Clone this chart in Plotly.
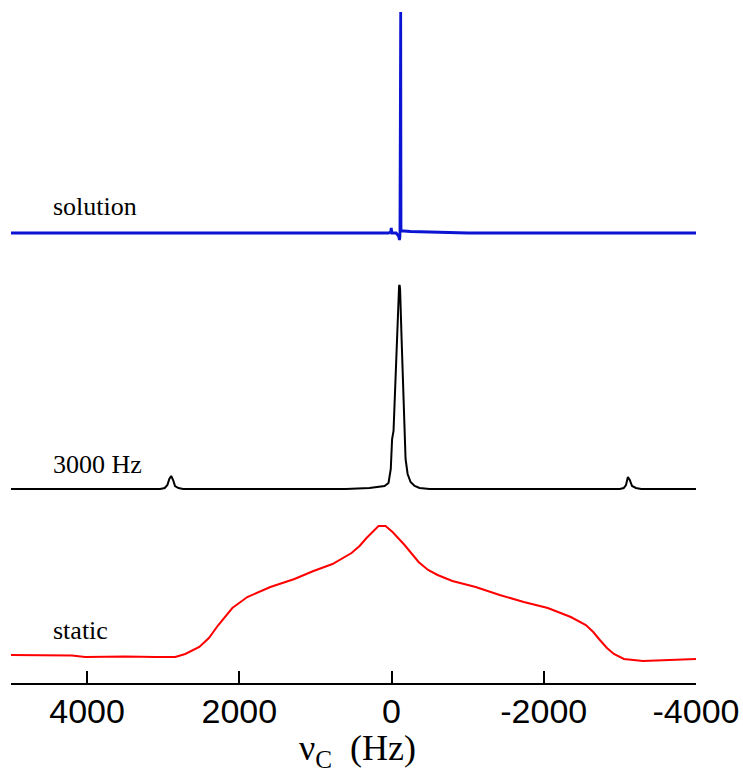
import plotly.graph_objects as go

# ---------------- data ----------------
# frequency axis (Hz) and intensities (arbitrary units)
solution_hz = [5000, 3000, 1000, 200, 40, 12, 4, -4, -60, -92, -104, -110, -116, -120, -124, -132, -160, -250, -500, -1000, -2000, -4000]
solution_int = [0, 0, 0, 0, 0, 1, 5, 0, 0, -3, -7, -4, 221, 221, 4, 2, 2, 1.5, 1, 0, 0, 0]

mas_hz = [5000, 3100, 3040, 2980, 2945, 2920, 2895, 2870, 2845, 2800, 2740, 600, 290, 92, 40, 10, -7, -26, -53, -79, -99, -106, -112, -132, -151, -171, -184, -211, -250, -303, -368, -500,
          -2900, -3000, -3050, -3080, -3105, -3130, -3160, -3210, -3280, -4000]
mas_int = [0, 0, 0, 1, 4, 10, 13, 9, 3, 1, 0, 0, 1, 3, 6, 20, 50, 58, 110, 175, 203, 204, 200, 150, 100, 55, 30, 15, 7, 3, 1, 0,
           0, 0, 1, 4, 12, 9, 3, 1, 0, 0]

static_hz = [5000, 4600, 4200, 4026, 3800, 3500, 3100, 2842, 2711, 2526, 2400, 2276, 2092, 1895, 1592, 1276, 1026, 776, 526, 420, 329, 240, 171, 79, -13, -171, -355, -480, -605, -800,
             -1105, -1421, -1737, -2053, -2355, -2553, -2650, -2737, -2830, -2921, -3053, -3303, -3737, -4000]
static_int = [1, 1, 0.5, -1, -0.5, -0.5, -1, -1, 2, 9, 18, 31, 48, 59, 69, 77, 85, 92, 103, 110, 118, 125, 130, 130, 124, 111, 94, 86, 81, 75,
              69, 61, 54, 48, 39, 31, 24, 16, 8, 2, -3, -5, -4, -3]

labels = ["solution", "3000 Hz", "static"]
tick_vals = [4000, 2000, 0, -2000, -4000]
tick_text = ["4000", "2000", "0", "-2000", "-4000"]
axis_title = "ν<sub>C</sub>  (Hz)"

# ---------------- styling / layout ----------------
offsets = [450, 194, 27]          # vertical stacking offsets
label_y = [477, 219, 53]
colors = ["#0a14d2", "#000000", "#ff0000"]
widths = [2.8, 2.0, 2.0]

fig = go.Figure()
series = [(solution_hz, solution_int), (mas_hz, mas_int), (static_hz, static_int)]
for (xs, ys), off, col, w, name in zip(series, offsets, colors, widths, labels):
    fig.add_trace(go.Scatter(x=xs, y=[v + off for v in ys], mode="lines",
                             line=dict(color=col, width=w), name=name,
                             showlegend=False, hoverinfo="skip"))

for lab, ly in zip(labels, label_y):
    fig.add_annotation(x=4474, y=ly, xref="x", yref="y", text=lab, showarrow=False,
                       xanchor="left", yanchor="middle",
                       font=dict(family="Liberation Serif, Times New Roman, serif", size=26, color="black"))

# axis title placed below the tick labels
fig.add_annotation(x=0.506, y=-0.1, xref="paper", yref="paper", text=axis_title, showarrow=False,
                   xanchor="center", yanchor="middle",
                   font=dict(family="Liberation Serif, Times New Roman, serif", size=36, color="black"))

fig.update_layout(
    width=743, height=775,
    margin=dict(l=11, r=47, t=5, b=92),
    paper_bgcolor="white", plot_bgcolor="white",
    xaxis=dict(range=[5000, -4000], showgrid=False, zeroline=False, automargin=False,
               showline=True, linecolor="black", linewidth=2,
               ticks="inside", ticklen=12, tickwidth=1.5, tickcolor="black",
               tickvals=tick_vals, ticktext=tick_text, ticklabelstandoff=-3,
               tickfont=dict(family="Liberation Sans, Arial, sans-serif", size=34, color="black")),
    yaxis=dict(range=[0, 678], visible=False, fixedrange=True),
)

fig.write_html("out.html")
